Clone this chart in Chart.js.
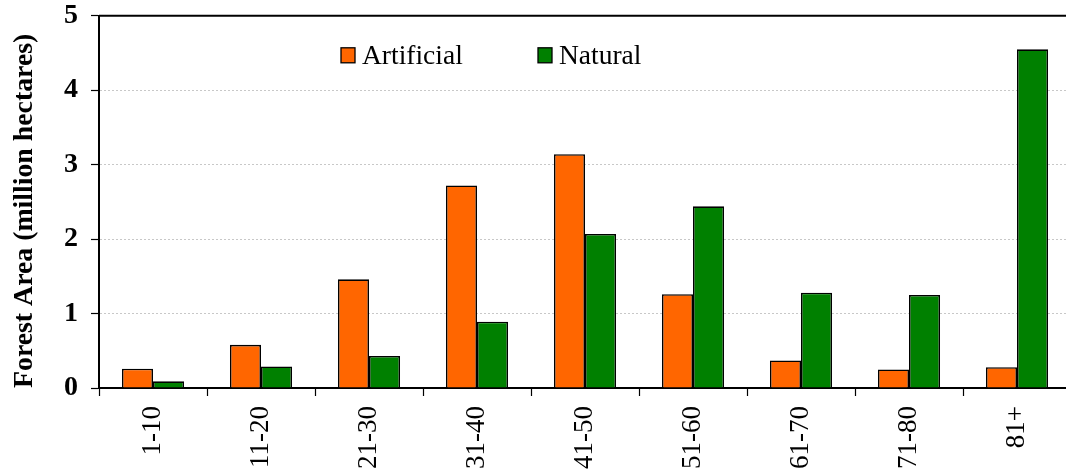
<!DOCTYPE html>
<html>
<head>
<meta charset="utf-8">
<script src="https://cdn.jsdelivr.net/npm/chart.js@4"></script>
<style>
  body { margin: 0; overflow: hidden; background: #fff; }
  #wrap { width: 1071px; height: 487px; margin-top: -14px; }
</style>
</head>
<body>
<div id="wrap"><canvas id="forestChart"></canvas></div>
<script>
const ageClasses = ["1-10", "11-20", "21-30", "31-40", "41-50", "51-60", "61-70", "71-80", "81+"];
const artificialArea = [0.26, 0.58, 1.46, 2.72, 3.14, 1.26, 0.37, 0.25, 0.28];
const naturalArea = [0.09, 0.29, 0.43, 0.89, 2.07, 2.44, 1.28, 1.25, 4.55];
const yTicks = [0, 1, 2, 3, 4, 5];

const serif = "'Liberation Serif', 'Times New Roman', serif";

// legend sits inside the plot, drawn by hand
const insideLegend = {
  id: "insideLegend",
  afterDraw(chart) {
    const ctx = chart.ctx;
    const area = chart.chartArea;
    const spots = [242, 439];
    ctx.save();
    // top frame line
    ctx.strokeStyle = "#000";
    ctx.lineWidth = 2;
    ctx.beginPath();
    ctx.moveTo(area.left, area.top);
    ctx.lineTo(area.right, area.top);
    ctx.stroke();

    chart.data.datasets.forEach((ds, i) => {
      const x = area.left + spots[i];
      const y = area.top + 32;
      ctx.fillStyle = ds.backgroundColor;
      ctx.fillRect(x, y, 14, 15);
      ctx.strokeStyle = "#000";
      ctx.lineWidth = 1.3;
      ctx.strokeRect(x, y, 14, 15);
      ctx.fillStyle = "#000";
      ctx.font = "27.5px " + serif;
      ctx.textBaseline = "alphabetic";
      ctx.fillText(ds.label, x + 21, y + 16);
    });
    ctx.restore();
  }
};

const ctx = document.getElementById("forestChart").getContext("2d");
const myChart = new Chart(ctx, {
  type: "bar",
  data: {
    labels: ageClasses,
    datasets: [
      {
        label: "Artificial",
        data: artificialArea,
        backgroundColor: "#FF6600",
        borderColor: "#000",
        borderWidth: 1.6,
      },
      {
        label: "Natural",
        data: naturalArea,
        backgroundColor: "#008000",
        borderColor: "#000",
        borderWidth: 1.6,
      },
    ],
  },
  options: {
    responsive: true,
    maintainAspectRatio: false,
    animation: false,
    layout: { padding: { top: 0, right: 0, left: 0, bottom: 0 } },
    datasets: {
      bar: { categoryPercentage: 0.575, barPercentage: 1.0 },
    },
    plugins: {
      legend: { display: false },
      tooltip: { enabled: false },
    },
    scales: {
      x: {
        grid: {
          offset: true,
          drawOnChartArea: false,
          tickLength: 8,
          tickColor: "#000",
          tickWidth: 1.2,
        },
        border: { color: "#000", width: 2 },
        ticks: {
          color: "#000",
          font: { family: serif, size: 27 },
          minRotation: 90,
          maxRotation: 90,
          padding: 10,
        },
        afterFit(scale) {
          scale.height = 85;
        },
      },
      y: {
        min: 0,
        max: 5,
        afterBuildTicks(scale) {
          scale.ticks = yTicks.map((v) => ({ value: v }));
        },
        grid: {
          color: (c) => (c.tick && (c.tick.value === 0 || c.tick.value === 5) ? "rgba(0,0,0,0)" : "#c8c8c8"),
          tickColor: "#000",
          tickLength: 8,
          tickWidth: 1.2,
          lineWidth: 1,
        },
        border: { color: "#000", width: 2, dash: [2, 2] },
        ticks: {
          color: "#000",
          font: { family: serif, size: 28, weight: "bold" },
          padding: 13,
        },
        title: {
          display: true,
          text: "Forest Area (million hectares)",
          align: "start",
          color: "#000",
          font: { family: serif, size: 27.8, weight: "bold" },
          padding: { top: 8, bottom: 0 },
        },
        afterFit(scale) {
          scale.width = 99;
        },
      },
    },
  },
  plugins: [insideLegend],
});
</script>
</body>
</html>
